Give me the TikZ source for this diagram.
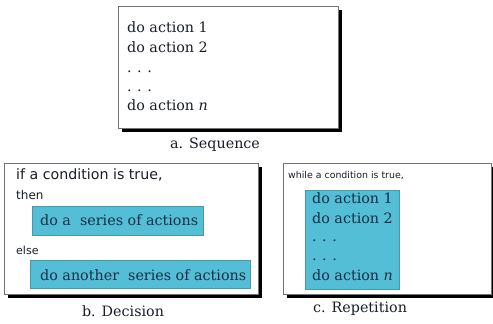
\documentclass[tikz,border=0pt]{standalone}
\usepackage{fontspec}
\setmainfont{DejaVu Serif}
\newfontfamily\sansf{DejaVu Sans}
\usetikzlibrary{shadows}
\definecolor{boxblue}{RGB}{84,190,214}
\definecolor{ink}{RGB}{25,30,40}
\definecolor{blueink}{RGB}{20,45,70}
\newcommand{\mydots}{.\hspace{5.5pt}.\hspace{5.5pt}.}
\begin{document}
\begin{tikzpicture}[x=1pt,y=-1pt,
  panel/.style={draw=black!55, line width=0.8pt, fill=white, inner sep=0pt,
    drop shadow={shadow xshift=3.5pt, shadow yshift=-3.5pt, fill=black, opacity=1}},
  bluebox/.style={fill=boxblue, draw=boxblue!80!black, line width=0.3pt, inner sep=0pt},
  serif/.style={anchor=base west, inner sep=0pt, font=\fontsize{14.3}{17}\selectfont, text=ink},
  bserif/.style={serif, text=blueink},
  sans/.style={anchor=base west, inner sep=0pt, text=ink},
  caption/.style={anchor=base, inner sep=0pt, font=\fontsize{14.3}{17}\selectfont, text=ink}]
\useasboundingbox[fill=white] (0,0) rectangle (493,324);
% panel a
\node[panel, minimum width=220pt, minimum height=122pt] (pa) at (228,67) {};
\node[serif] (a1) at (127,32) {do action 1};
\node[serif] (a2) at (127,52) {do action 2};
\node[serif] (a3) at (127,72) {\mydots};
\node[serif] (a4) at (127,91) {\mydots};
\node[serif] (a5) at (127,110) {do action \textit{n}};
\node[caption] (ca) at (215,148) {a. Sequence};
% panel b
\node[panel, minimum width=254pt, minimum height=131pt] (pb) at (131,228.5) {};
\node[sans, font=\sansf\fontsize{14.2}{16}\selectfont] (b1) at (16,179) {if a condition is true,};
\node[sans, font=\sansf\fontsize{12}{14}\selectfont] (b2) at (16,199) {then};
\node[bluebox, minimum width=171pt, minimum height=29pt] (bb1) at (117.5,220.5) {};
\node[bserif] (b3) at (40,225) {do a\ \ series of actions};
\node[sans, font=\sansf\fontsize{11}{13}\selectfont] (b4) at (16,254) {else};
\node[bluebox, minimum width=220pt, minimum height=28pt] (bb2) at (140,274) {};
\node[bserif] (b5) at (40,280) {do another\ \ series of actions};
\node[caption] (cb) at (123,316) {b. Decision};
% panel c
\node[panel, minimum width=208pt, minimum height=131pt] (pc) at (387,228.5) {};
\node[sans, font=\sansf\fontsize{9.4}{12}\selectfont] (c0) at (288,178) {while a condition is true,};
\node[bluebox, minimum width=94pt, minimum height=99pt] (cb1) at (352,239.5) {};
\node[bserif] (c1) at (312,203) {do action 1};
\node[bserif] (c2) at (312,223) {do action 2};
\node[bserif] (c3) at (312,241) {\mydots};
\node[bserif] (c4) at (312,260) {\mydots};
\node[bserif] (c5) at (312,280) {do action \textit{n}};
\node[caption] (cc) at (360,312) {c. Repetition};
\end{tikzpicture}
\end{document}
